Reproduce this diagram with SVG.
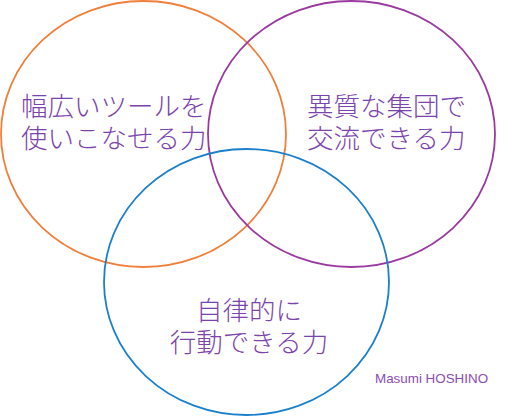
<svg xmlns="http://www.w3.org/2000/svg" width="515" height="416" viewBox="0 0 515 416">
<style>
.c{fill:none;stroke-width:1.8}
.t{font-family:"Liberation Sans","Noto Sans CJK JP",sans-serif;font-size:26.5px;fill:#7b44ac;font-weight:300}
.s{font-family:"Liberation Sans",Arial,sans-serif;font-size:13.4px;fill:#8a4cb4}
</style>
<rect width="515" height="416" fill="#fff"/>
<g id="connectors"></g>
<g id="orange"><ellipse class="c" cx="143.5" cy="134" rx="142.5" ry="133" stroke="#f07f3a"/>
<text class="t" x="21" y="116">幅広いツールを</text><text class="t" x="21" y="148">使いこなせる力</text></g>
<g id="purple"><ellipse class="c" cx="351.5" cy="134" rx="143.5" ry="133" stroke="#9a3aa0"/>
<text class="t" x="307" y="116">異質な集団で</text><text class="t" x="307" y="148">交流できる力</text></g>
<g id="blue"><ellipse class="c" cx="246.5" cy="282" rx="142.5" ry="133" stroke="#1b80cc"/>
<text class="t" x="249" y="320" text-anchor="middle">自律的に</text><text class="t" x="249" y="352" text-anchor="middle">行動できる力</text></g>
<g id="credit"><text class="s" x="375" y="383">Masumi HOSHINO</text></g>
</svg>
